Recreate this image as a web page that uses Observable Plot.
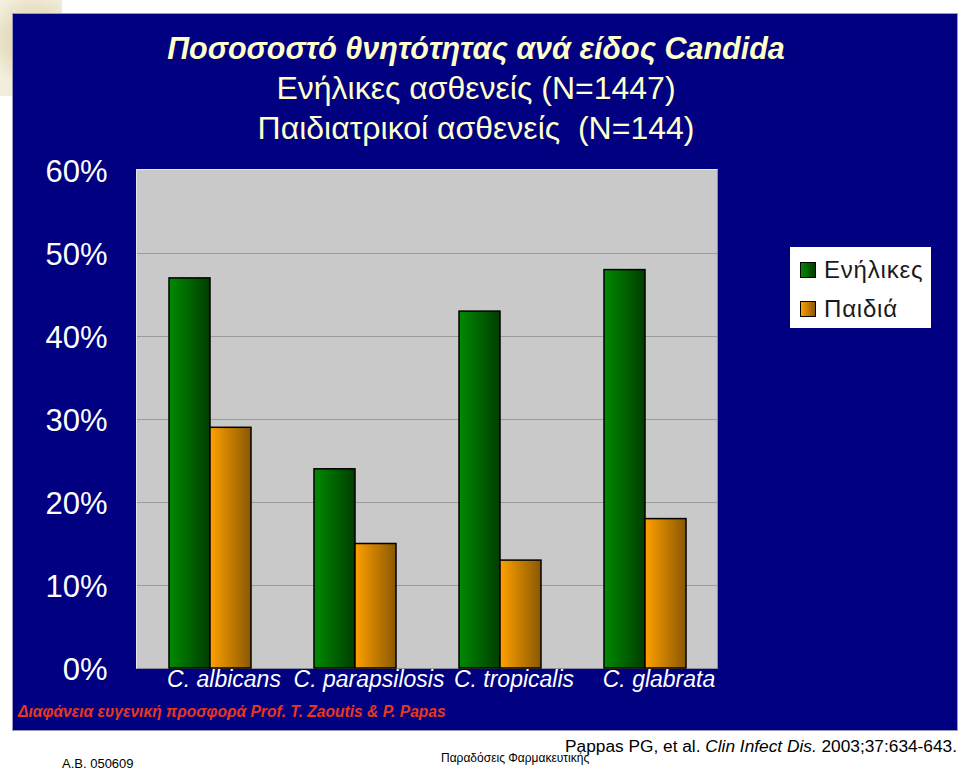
<!DOCTYPE html>
<html>
<head>
<meta charset="utf-8">
<script src="https://cdn.jsdelivr.net/npm/d3@7"></script>
<script src="https://cdn.jsdelivr.net/npm/@observablehq/plot@0.6"></script>
<style>
  html, body { margin: 0; padding: 0; background: #fff; }
  #page { position: relative; width: 960px; height: 770px; overflow: hidden; font-family: "Liberation Sans", Arial, sans-serif; }
  #deco { position: absolute; left: 0; top: 0; width: 62px; height: 96px; background: radial-gradient(circle at 35px 40px, #c2b07a 0, #e3dabb 24px, #f3eedc 48px); }
  #navy { position: absolute; left: 13px; top: 14px; width: 944px; height: 716px; background: #000080; box-shadow: 0 0 0 1px #9a9ab8; }
  #plotbg { position: absolute; left: 136px; top: 169px; width: 580px; height: 498px; background: #c9c9c9; border-top: 1px solid #e4e4ee; border-left: 1px solid #e4e4ee; border-right: 1px solid #8a8aa0; border-bottom: 1px solid #8a8aa0; }
  #title { position: absolute; left: 0; width: 952px; top: 28px; text-align: center; color: #ffffcc; font-size: 32px; line-height: 40px; }
  #title .t1 { font-weight: bold; font-style: italic; font-size: 30.5px; }
  #chart { position: absolute; left: 0; top: 0; }
  #legend { position: absolute; left: 790px; top: 247px; width: 141px; height: 81px; background: #fff; }
  .li { position: absolute; left: 10px; font-size: 24px; letter-spacing: 0.8px; color: #1a1a1a; line-height: 26px; }
  .sw { display: inline-block; width: 14px; height: 14px; border: 1px solid #000; margin-right: 8px; vertical-align: 0px; }
  #credit { position: absolute; left: 18px; top: 703px; color: #e8381c; font-size: 15.6px; font-weight: bold; font-style: italic; line-height: 18px; }
  #ref { position: absolute; right: 3px; top: 736px; font-size: 17.3px; color: #000; line-height: 20px; }
  #ab { position: absolute; left: 62px; top: 757px; font-size: 13px; color: #000; line-height: 13px; }
  #pf { position: absolute; left: 441px; top: 752px; font-size: 12px; color: #000; line-height: 13px; }
</style>
</head>
<body>
<div id="page">
  <div id="deco"></div>
  <div id="navy"></div>
  <div id="plotbg"></div>
  <div id="chart"></div>
  <div id="title">
    <div class="t1">Ποσοσοστό θνητότητας ανά είδος Candida</div>
    <div>Ενήλικες ασθενείς (N=1447)</div>
    <div>Παιδιατρικοί ασθενείς &nbsp;(N=144)</div>
  </div>
  <div id="legend"></div>
  <div id="credit">Διαφάνεια ευγενική προσφορά Prof. T. Zaoutis &amp; P. Papas</div>
  <div id="ref">Pappas PG, et al. <i>Clin Infect Dis.</i> 2003;37:634-643.</div>
  <div id="ab">Α.Β. 050609</div>
  <div id="pf">Παραδόσεις Φαρμακευτικής</div>
</div>
<script>
const species = ["C. albicans", "C. parapsilosis", "C. tropicalis", "C. glabrata"];
const adults = [47, 24, 43, 48];
const children = [29, 15, 13, 18];
const seriesNames = ["Ενήλικες", "Παιδιά"];
const yTicks = [0, 10, 20, 30, 40, 50, 60];

const rows = species.flatMap((s, i) => [
  {species: s, group: seriesNames[0], value: adults[i]},
  {species: s, group: seriesNames[1], value: children[i]}
]);

const chart = Plot.plot({
  width: 960,
  height: 770,
  marginLeft: 137,
  marginRight: 243,
  marginTop: 170,
  marginBottom: 102,
  style: {background: "transparent", fontFamily: "'Liberation Sans', Arial, sans-serif", overflow: "visible"},
  fx: {domain: species, padding: 0, label: null},
  x: {domain: seriesNames, paddingInner: 0, paddingOuter: 0.73, axis: null},
  y: {domain: [0, 60], axis: null},
  marks: [
    Plot.gridY(yTicks.filter(t => t > 0 && t < 60), {stroke: "#9c9c9c", strokeOpacity: 1, strokeWidth: 1}),
    Plot.barY(rows.filter(d => d.group === seriesNames[0]), {fx: "species", x: "group", y: "value", fill: "url(#gradGreen)", stroke: "#000", strokeWidth: 1.5}),
    Plot.barY(rows.filter(d => d.group === seriesNames[1]), {fx: "species", x: "group", y: "value", fill: "url(#gradOrange)", stroke: "#000", strokeWidth: 1.5}),
    Plot.axisY(yTicks, {tickSize: 0, tickPadding: 30, tickFormat: d => d + "%", fill: "#ffffff", fontSize: 31, dy: 2, label: null}),
    Plot.axisFx({anchor: "bottom", tickSize: 0, tickPadding: 0, fill: "#ffffff", fontSize: 23, fontStyle: "italic", label: null, dx: 14, dy: 2})
  ]
});

const svgns = "http://www.w3.org/2000/svg";
const defs = document.createElementNS(svgns, "defs");
function grad(id, c1, c2) {
  const g = document.createElementNS(svgns, "linearGradient");
  g.setAttribute("id", id);
  g.setAttribute("x1", "0"); g.setAttribute("x2", "1"); g.setAttribute("y1", "0"); g.setAttribute("y2", "0");
  const s1 = document.createElementNS(svgns, "stop"); s1.setAttribute("offset", "0"); s1.setAttribute("stop-color", c1);
  const s2 = document.createElementNS(svgns, "stop"); s2.setAttribute("offset", "1"); s2.setAttribute("stop-color", c2);
  g.appendChild(s1); g.appendChild(s2); defs.appendChild(g);
}
grad("gradGreen", "#008a00", "#003d00");
grad("gradOrange", "#ffa000", "#8a5800");
chart.insertBefore(defs, chart.firstChild);
document.getElementById("chart").appendChild(chart);

// legend
const legend = document.getElementById("legend");
const swatches = ["linear-gradient(90deg,#008a00,#003d00)", "linear-gradient(90deg,#ffa000,#8a5800)"];
seriesNames.forEach((name, i) => {
  const item = document.createElement("div");
  item.className = "li";
  item.style.top = (10 + i * 39) + "px";
  item.innerHTML = `<span class="sw" style="background:${swatches[i]}"></span>${name}`;
  legend.appendChild(item);
});
</script>
</body>
</html>
